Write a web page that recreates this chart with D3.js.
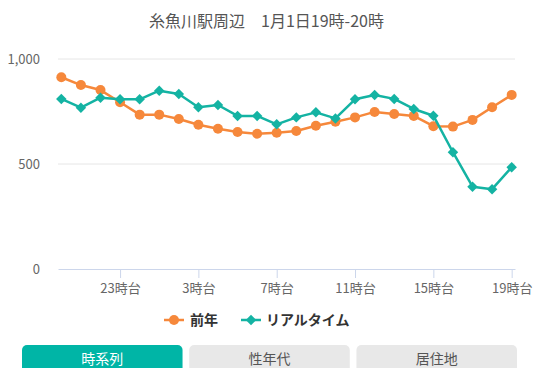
<!DOCTYPE html>
<html>
<head>
<meta charset="utf-8">
<script src="https://cdn.jsdelivr.net/npm/d3@7/dist/d3.min.js"></script>
<style>
  html, body { margin: 0; padding: 0; background: #fff; }
  body { width: 533px; height: 368px; overflow: hidden; font-family: "Noto Sans CJK JP", "Noto Sans", sans-serif; }
  svg { display: block; }
</style>
</head>
<body>
<svg id="chart" width="533" height="368"></svg>
<script>
// Hourly categories, starting at 20:00 of the previous day
const hours = ["20時台","21時台","22時台","23時台","0時台","1時台","2時台","3時台","4時台","5時台","6時台","7時台",
               "8時台","9時台","10時台","11時台","12時台","13時台","14時台","15時台","16時台","17時台","18時台","19時台"];
const shownHours = ["23時台","3時台","7時台","11時台","15時台","19時台"];
const prevYear = [913,876,852,794,735,735,714,687,668,652,644,649,657,682,701,722,748,738,729,680,678,710,770,829];
const realtime = [810,768,816,808,808,849,833,770,781,729,729,689,722,746,717,808,829,810,762,730,556,392,380,484];
const yTicks = [0, 500, 1000];
const seriesNames = ["前年", "リアルタイム"];
const tabs = ["時系列", "性年代", "居住地"];

const ORANGE = "#f6883b";
const TEAL = "#14b3a3";
const FONT = '"Noto Sans CJK JP", "Noto Sans", sans-serif';

const svg = d3.select("#chart");

const x = d3.scalePoint().domain(hours).range([58, 515]).padding(0.17);
const y = d3.scaleLinear().domain([0, 1000]).range([269, 59]);

// Title
svg.append("text")
  .attr("x", 266.5).attr("y", 27)
  .attr("text-anchor", "middle")
  .attr("font-family", FONT).attr("font-size", 16)
  .attr("fill", "#555")
  .text("糸魚川駅周辺　1月1日19時-20時");

// Horizontal grid lines
svg.append("g").selectAll("line")
  .data(yTicks.filter(d => d > 0))
  .join("line")
  .attr("x1", 58).attr("x2", 515)
  .attr("y1", d => y(d)).attr("y2", d => y(d))
  .attr("stroke", "#e6e6e6").attr("stroke-width", 1);

// Y axis labels
const fmt = d3.format(",");
svg.append("g").selectAll("text")
  .data(yTicks)
  .join("text")
  .attr("x", 40).attr("y", d => y(d) + 5)
  .attr("text-anchor", "end")
  .attr("font-family", FONT).attr("font-size", 13)
  .attr("fill", "#666")
  .text(d => fmt(d));

// X axis
const xAxis = d3.axisBottom(x)
  .tickValues(shownHours)
  .tickSize(9)
  .tickSizeOuter(0);
const gx = svg.append("g")
  .attr("transform", `translate(0,${y(0)})`)
  .call(xAxis);
gx.select(".domain").attr("stroke", "#ccd6eb");
gx.selectAll(".tick line").attr("stroke", "#ccd6eb");
gx.selectAll(".tick text")
  .attr("y", 15)
  .attr("font-family", FONT).attr("font-size", 13)
  .attr("fill", "#666");

// Series lines and markers
const line = d3.line().x((d, i) => x(hours[i])).y(d => y(d));

svg.append("path").datum(prevYear)
  .attr("d", line).attr("fill", "none")
  .attr("stroke", ORANGE).attr("stroke-width", 2.5)
  .attr("stroke-linejoin", "round");
svg.append("g").selectAll("circle")
  .data(prevYear).join("circle")
  .attr("cx", (d, i) => x(hours[i])).attr("cy", d => y(d))
  .attr("r", 5).attr("fill", ORANGE);

const diamond = d3.symbol().type(d3.symbolDiamond2).size(70);
svg.append("path").datum(realtime)
  .attr("d", line).attr("fill", "none")
  .attr("stroke", TEAL).attr("stroke-width", 2.5)
  .attr("stroke-linejoin", "round");
svg.append("g").selectAll("path")
  .data(realtime).join("path")
  .attr("d", diamond)
  .attr("transform", (d, i) => `translate(${x(hours[i])},${y(d)})`)
  .attr("fill", TEAL);

// Legend
const legend = svg.append("g").attr("transform", "translate(0,320)");
const legendItems = [
  { name: seriesNames[0], color: ORANGE, sym: "circle", x0: 164, tx: 190 },
  { name: seriesNames[1], color: TEAL, sym: "diamond", x0: 241, tx: 266 }
];
legendItems.forEach(it => {
  legend.append("line")
    .attr("x1", it.x0).attr("x2", it.x0 + 20)
    .attr("y1", 0).attr("y2", 0)
    .attr("stroke", it.color).attr("stroke-width", 2.5);
  if (it.sym === "circle") {
    legend.append("circle").attr("cx", it.x0 + 10).attr("cy", 0).attr("r", 5).attr("fill", it.color);
  } else {
    legend.append("path").attr("d", diamond).attr("transform", `translate(${it.x0 + 10},0)`).attr("fill", it.color);
  }
  legend.append("text")
    .attr("x", it.tx).attr("y", 5)
    .attr("font-family", FONT).attr("font-size", 14).attr("font-weight", "bold")
    .attr("fill", "#333")
    .text(it.name);
});

// Tab buttons
const tabX = d3.scaleBand().domain(tabs).range([22, 517]).paddingInner(0.04);
const tabG = svg.append("g").selectAll("g").data(tabs).join("g");
tabG.append("rect")
  .attr("x", d => tabX(d)).attr("y", 345)
  .attr("width", tabX.bandwidth()).attr("height", 40)
  .attr("rx", 5).attr("ry", 5)
  .attr("fill", (d, i) => i === 0 ? "#00b5a6" : "#e8e8e8");
tabG.append("text")
  .attr("x", d => tabX(d) + tabX.bandwidth() / 2).attr("y", 364)
  .attr("text-anchor", "middle")
  .attr("font-family", FONT).attr("font-size", 14)
  .attr("fill", (d, i) => i === 0 ? "#fff" : "#555")
  .text(d => d);
</script>
</body>
</html>
